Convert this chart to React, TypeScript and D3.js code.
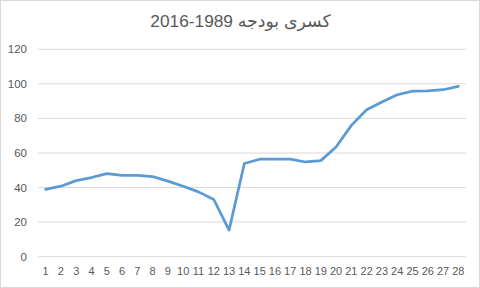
import React from "react";
import * as d3 from "d3";

const categories: string[] = Array.from({ length: 28 }, (_, i) => String(i + 1));
const values: number[] = [
  38.9, 40.8, 44, 45.8, 48.1, 47, 47, 46.4, 43.7, 40.8, 37.5, 33.1, 15.4, 53.9,
  56.4, 56.5, 56.4, 54.8, 55.6, 63.5, 76, 85, 89.5, 93.7, 95.8, 95.9, 96.6, 98.5,
];
const yTicks: number[] = [0, 20, 40, 60, 80, 100, 120];
const title = "2016-1989 کسری بودجه";

const W = 480;
const H = 288;
const left = 38;
const right = 466;
const top = 49.3;
const bottom = 256.7;
const font = "'Liberation Sans', 'DejaVu Sans', Arial, sans-serif";

export default function App() {
  const x = d3.scaleBand<string>().domain(categories).range([left, right]);
  const y = d3.scaleLinear().domain([0, 120]).range([bottom, top]);
  const line = d3
    .line<number>()
    .x((_, i) => (x(categories[i]) as number) + x.bandwidth() / 2)
    .y((d) => y(d));

  return (
    <svg
      width={W}
      height={H}
      style={{ position: "absolute", left: 0, top: 0, background: "#fff" }}
    >
      <rect x={0.5} y={0.5} width={W - 1} height={H - 1} fill="#fff" stroke="#d9d9d9" />
      <text
        x={240.5}
        y={26.5}
        textAnchor="middle"
        fontFamily={font}
        fontSize={17.3}
        fill="#595959"
      >
        {title}
      </text>
      {yTicks.map((t) => (
        <g key={t}>
          <line x1={left} x2={right} y1={y(t)} y2={y(t)} stroke="#d9d9d9" strokeWidth={1} />
          <text
            x={27}
            y={y(t) + 4}
            textAnchor="end"
            fontFamily={font}
            fontSize={11.5}
            fill="#595959"
          >
            {t}
          </text>
        </g>
      ))}
      {categories.map((c) => (
        <text
          key={c}
          x={(x(c) as number) + x.bandwidth() / 2}
          y={275}
          textAnchor="middle"
          fontFamily={font}
          fontSize={11}
          fill="#595959"
        >
          {c}
        </text>
      ))}
      <path
        d={line(values) || ""}
        fill="none"
        stroke="#5B9BD5"
        strokeWidth={2.75}
        strokeLinejoin="round"
        strokeLinecap="round"
      />
    </svg>
  );
}
